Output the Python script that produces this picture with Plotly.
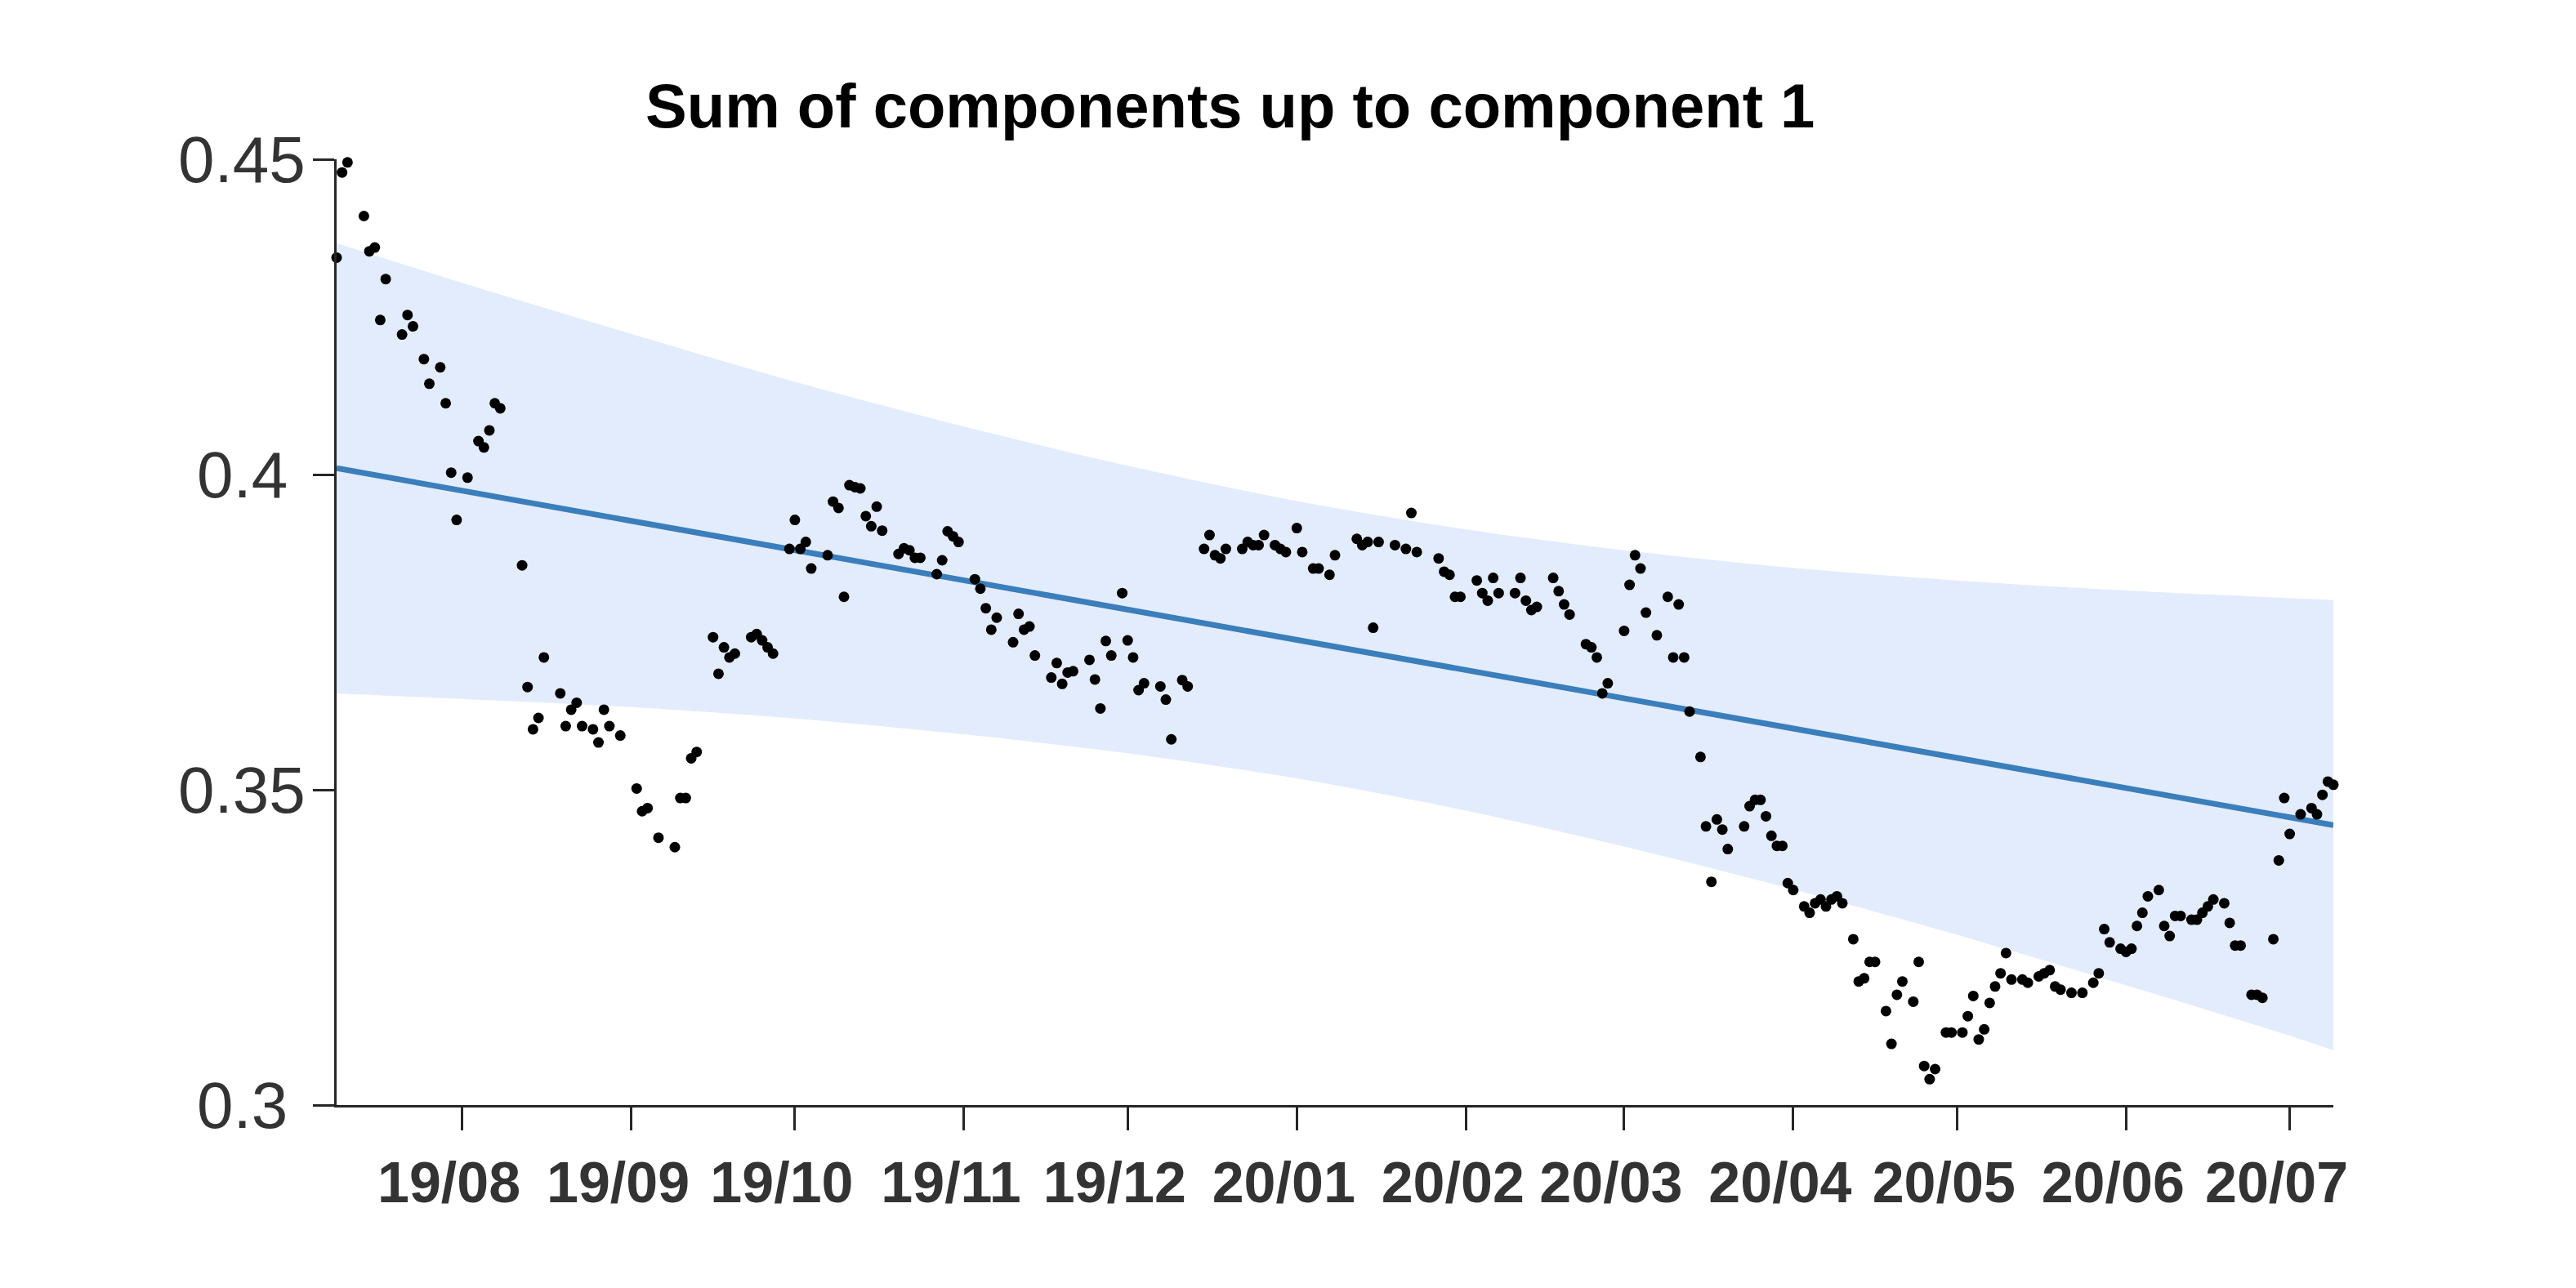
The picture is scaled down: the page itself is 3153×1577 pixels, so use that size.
import plotly.graph_objects as go

# ---- observed points (date, value) ----
dates = [
    "2019-07-09", "2019-07-10", "2019-07-11", "2019-07-14", "2019-07-15", "2019-07-16", "2019-07-17", "2019-07-18",
    "2019-07-21", "2019-07-22", "2019-07-23", "2019-07-25", "2019-07-26", "2019-07-28", "2019-07-29", "2019-07-30",
    "2019-07-31", "2019-08-02", "2019-08-04", "2019-08-05", "2019-08-06", "2019-08-07", "2019-08-08", "2019-08-12",
    "2019-08-13", "2019-08-14", "2019-08-15", "2019-08-16", "2019-08-19", "2019-08-20", "2019-08-21", "2019-08-22",
    "2019-08-23", "2019-08-25", "2019-08-26", "2019-08-27", "2019-08-28", "2019-08-30", "2019-09-02", "2019-09-03",
    "2019-09-04", "2019-09-06", "2019-09-09", "2019-09-10", "2019-09-11", "2019-09-12", "2019-09-13", "2019-09-16",
    "2019-09-17", "2019-09-18", "2019-09-19", "2019-09-20", "2019-09-23", "2019-09-24", "2019-09-25", "2019-09-26",
    "2019-09-27", "2019-09-30", "2019-10-01", "2019-10-02", "2019-10-03", "2019-10-04", "2019-10-07", "2019-10-08",
    "2019-10-09", "2019-10-10", "2019-10-11", "2019-10-12", "2019-10-13", "2019-10-14", "2019-10-15", "2019-10-16",
    "2019-10-17", "2019-10-20", "2019-10-21", "2019-10-22", "2019-10-23", "2019-10-24", "2019-10-27", "2019-10-28",
    "2019-10-29", "2019-10-30", "2019-10-31", "2019-11-03", "2019-11-04", "2019-11-05", "2019-11-06", "2019-11-07",
    "2019-11-10", "2019-11-11", "2019-11-12", "2019-11-13", "2019-11-14", "2019-11-17", "2019-11-18", "2019-11-19",
    "2019-11-20", "2019-11-21", "2019-11-24", "2019-11-25", "2019-11-26", "2019-11-27", "2019-11-28", "2019-11-30",
    "2019-12-01", "2019-12-02", "2019-12-03", "2019-12-04", "2019-12-07", "2019-12-08", "2019-12-09", "2019-12-11",
    "2019-12-12", "2019-12-15", "2019-12-16", "2019-12-17", "2019-12-18", "2019-12-19", "2019-12-22", "2019-12-23",
    "2019-12-24", "2019-12-25", "2019-12-26", "2019-12-28", "2019-12-29", "2019-12-30", "2020-01-01", "2020-01-02",
    "2020-01-04", "2020-01-05", "2020-01-07", "2020-01-08", "2020-01-12", "2020-01-13", "2020-01-14", "2020-01-15",
    "2020-01-16", "2020-01-19", "2020-01-21", "2020-01-22", "2020-01-23", "2020-01-27", "2020-01-28", "2020-01-29",
    "2020-01-30", "2020-01-31", "2020-02-03", "2020-02-04", "2020-02-05", "2020-02-06", "2020-02-07", "2020-02-10",
    "2020-02-11", "2020-02-12", "2020-02-13", "2020-02-14", "2020-02-17", "2020-02-18", "2020-02-19", "2020-02-20",
    "2020-02-23", "2020-02-24", "2020-02-25", "2020-02-26", "2020-02-27", "2020-03-01", "2020-03-02", "2020-03-03",
    "2020-03-04", "2020-03-05", "2020-03-07", "2020-03-09", "2020-03-10", "2020-03-11", "2020-03-12", "2020-03-13",
    "2020-03-15", "2020-03-16", "2020-03-17", "2020-03-18", "2020-03-19", "2020-03-20", "2020-03-23", "2020-03-24",
    "2020-03-25", "2020-03-26", "2020-03-27", "2020-03-28", "2020-03-29", "2020-03-30", "2020-03-31", "2020-04-01",
    "2020-04-03", "2020-04-04", "2020-04-05", "2020-04-06", "2020-04-07", "2020-04-08", "2020-04-09", "2020-04-10",
    "2020-04-12", "2020-04-13", "2020-04-14", "2020-04-15", "2020-04-16", "2020-04-18", "2020-04-19", "2020-04-20",
    "2020-04-21", "2020-04-23", "2020-04-24", "2020-04-25", "2020-04-26", "2020-04-27", "2020-04-29", "2020-04-30",
    "2020-05-02", "2020-05-03", "2020-05-04", "2020-05-05", "2020-05-06", "2020-05-07", "2020-05-08", "2020-05-09",
    "2020-05-10", "2020-05-11", "2020-05-13", "2020-05-14", "2020-05-16", "2020-05-17", "2020-05-18", "2020-05-19",
    "2020-05-20", "2020-05-22", "2020-05-24", "2020-05-26", "2020-05-27", "2020-05-28", "2020-05-29", "2020-05-31",
    "2020-06-01", "2020-06-02", "2020-06-03", "2020-06-04", "2020-06-05", "2020-06-07", "2020-06-08", "2020-06-09",
    "2020-06-10", "2020-06-11", "2020-06-13", "2020-06-14", "2020-06-15", "2020-06-16", "2020-06-17", "2020-06-19",
    "2020-06-20", "2020-06-21", "2020-06-22", "2020-06-24", "2020-06-25", "2020-06-26", "2020-06-28", "2020-06-29",
    "2020-06-30", "2020-07-01", "2020-07-03", "2020-07-05", "2020-07-06", "2020-07-07", "2020-07-08", "2020-07-09",
]
values = [
    0.4344, 0.4479, 0.4495, 0.4410, 0.4354, 0.4360, 0.4245, 0.4310,
    0.4222, 0.4253, 0.4235, 0.4183, 0.4144, 0.4170, 0.4113, 0.4003,
    0.3928, 0.3995, 0.4053, 0.4043, 0.4070, 0.4113, 0.4105, 0.3856,
    0.3663, 0.3596, 0.3614, 0.3710, 0.3653, 0.3601, 0.3627, 0.3638,
    0.3601, 0.3596, 0.3575, 0.3627, 0.3601, 0.3586, 0.3502, 0.3466,
    0.3471, 0.3424, 0.3409, 0.3487, 0.3487, 0.3550, 0.3560, 0.3742,
    0.3684, 0.3726, 0.3710, 0.3716, 0.3742, 0.3747, 0.3737, 0.3726,
    0.3716, 0.3882, 0.3928, 0.3882, 0.3893, 0.3851, 0.3872, 0.3957,
    0.3947, 0.3806, 0.3983, 0.3980, 0.3978, 0.3934, 0.3918, 0.3949,
    0.3911, 0.3874, 0.3883, 0.3880, 0.3868, 0.3868, 0.3842, 0.3864,
    0.3910, 0.3902, 0.3893, 0.3834, 0.3819, 0.3788, 0.3754, 0.3773,
    0.3734, 0.3779, 0.3754, 0.3759, 0.3713, 0.3678, 0.3701, 0.3668,
    0.3686, 0.3688, 0.3706, 0.3675, 0.3629, 0.3736, 0.3713, 0.3812,
    0.3737, 0.3710, 0.3658, 0.3669, 0.3664, 0.3643, 0.3580, 0.3674,
    0.3664, 0.3882, 0.3904, 0.3872, 0.3867, 0.3882, 0.3882, 0.3893,
    0.3888, 0.3888, 0.3904, 0.3888, 0.3882, 0.3877, 0.3915, 0.3877,
    0.3851, 0.3851, 0.3841, 0.3872, 0.3898, 0.3888, 0.3893, 0.3757,
    0.3893, 0.3888, 0.3882, 0.3939, 0.3877, 0.3867, 0.3846, 0.3841,
    0.3806, 0.3806, 0.3832, 0.3812, 0.3800, 0.3836, 0.3812, 0.3812,
    0.3836, 0.3800, 0.3785, 0.3790, 0.3836, 0.3815, 0.3794, 0.3778,
    0.3731, 0.3726, 0.3710, 0.3653, 0.3669, 0.3752, 0.3825, 0.3872,
    0.3851, 0.3781, 0.3745, 0.3806, 0.3710, 0.3794, 0.3710, 0.3624,
    0.3552, 0.3442, 0.3354, 0.3453, 0.3437, 0.3406, 0.3442, 0.3474,
    0.3484, 0.3484, 0.3458, 0.3427, 0.3411, 0.3411, 0.3352, 0.3341,
    0.3315, 0.3305, 0.3320, 0.3326, 0.3315, 0.3326, 0.3331, 0.3320,
    0.3263, 0.3196, 0.3201, 0.3227, 0.3227, 0.3149, 0.3097, 0.3175,
    0.3196, 0.3164, 0.3227, 0.3062, 0.3041, 0.3057, 0.3115, 0.3115,
    0.3115, 0.3141, 0.3173, 0.3104, 0.3120, 0.3162, 0.3188, 0.3209,
    0.3241, 0.3199, 0.3199, 0.3194, 0.3204, 0.3209, 0.3214, 0.3188,
    0.3183, 0.3178, 0.3178, 0.3194, 0.3209, 0.3279, 0.3258, 0.3248,
    0.3243, 0.3248, 0.3284, 0.3305, 0.3331, 0.3341, 0.3284, 0.3268,
    0.3300, 0.3300, 0.3294, 0.3294, 0.3305, 0.3315, 0.3326, 0.3320,
    0.3289, 0.3253, 0.3253, 0.3175, 0.3175, 0.3170, 0.3263, 0.3388,
    0.3487, 0.3430, 0.3461, 0.3471, 0.3461, 0.3492, 0.3513, 0.3508,
]

# ---- fitted trend and its band ----
fit_dates = ["2019-07-09", "2020-07-09"]
fit_values = [0.4010, 0.3444]

band_dates = ["2019-07-09", "2019-08-01", "2019-09-01", "2019-10-01", "2019-11-01", "2019-12-01", "2020-01-01",
              "2020-02-01", "2020-03-01", "2020-04-01", "2020-05-01", "2020-06-01", "2020-07-01", "2020-07-09"]
band_upper = [0.4367, 0.4304, 0.4223, 0.4147, 0.4076, 0.4014, 0.3958,
              0.3913, 0.3880, 0.3852, 0.3832, 0.3816, 0.3804, 0.3801]
band_lower = [0.3653, 0.3644, 0.3631, 0.3613, 0.3588, 0.3558, 0.3518,
              0.3467, 0.3410, 0.3342, 0.3270, 0.3190, 0.3110, 0.3087]

# ---- axes ----
x_range = ["2019-07-09", "2020-07-09"]
month_ticks = ["2019-08-01", "2019-09-01", "2019-10-01", "2019-11-01", "2019-12-01", "2020-01-01",
               "2020-02-01", "2020-03-01", "2020-04-01", "2020-05-01", "2020-06-01", "2020-07-01"]
month_labels = ["19/08", "19/09", "19/10", "19/11", "19/12", "20/01",
                "20/02", "20/03", "20/04", "20/05", "20/06", "20/07"]
y_ticks = [0.3, 0.35, 0.4, 0.45]
y_labels = ["0.3", "0.35", "0.4", "0.45"]
title_text = "Sum of components up to component 1"

AX = "#262626"
LBL = "#333333"
FONT = "Liberation Sans, Arial, Helvetica, sans-serif"

fig = go.Figure()
fig.add_trace(go.Scatter(x=band_dates, y=band_upper, mode="lines",
                         line=dict(width=0, shape="spline", smoothing=0.8),
                         hoverinfo="skip", showlegend=False))
fig.add_trace(go.Scatter(x=band_dates, y=band_lower, mode="lines",
                         line=dict(width=0, shape="spline", smoothing=0.8),
                         fill="tonexty", fillcolor="rgb(227,236,253)",
                         hoverinfo="skip", showlegend=False))
fig.add_trace(go.Scatter(x=fit_dates, y=fit_values, mode="lines",
                         line=dict(color="#3a7ebb", width=7), showlegend=False))
fig.add_trace(go.Scatter(x=dates, y=values, mode="markers", cliponaxis=False,
                         marker=dict(color="black", size=13, line=dict(width=0)),
                         showlegend=False))

# y tick labels: centred text beside each tick (the reference centres them)
for v, lab in zip(y_ticks, y_labels):
    fig.add_annotation(x=0, xref="paper", y=v, yref="y", text=lab, showarrow=False,
                       xanchor="center", yanchor="middle", xshift=-116,
                       font=dict(size=80, color=LBL, family=FONT))

fig.update_layout(
    width=3153, height=1577,
    margin=dict(l=404, r=305, t=187, b=232),
    paper_bgcolor="white", plot_bgcolor="white",
    font=dict(family=FONT, color=AX),
    title=dict(text="<b>" + title_text + "</b>", x=0.475, xanchor="center",
               y=1 - 121 / 1577, yanchor="middle", yref="container",
               font=dict(size=76, color="black", family=FONT)),
)
fig.update_xaxes(
    type="date", range=x_range, tickvals=month_ticks, ticktext=month_labels,
    showgrid=False, zeroline=False, showline=True, linecolor=AX, linewidth=3,
    ticks="outside", ticklen=28, tickwidth=3, tickcolor=AX, automargin=False,
    tickfont=dict(size=70, color=LBL, family=FONT, weight="bold"),
    ticklabelstandoff=4, ticklabelshift=-16,
)
fig.update_yaxes(
    range=[0.3, 0.45], tickvals=y_ticks, showticklabels=False,
    showgrid=False, zeroline=False, showline=True, linecolor=AX, linewidth=3,
    ticks="outside", ticklen=26, tickwidth=3, tickcolor=AX, automargin=False,
)

fig.write_html("out.html")
